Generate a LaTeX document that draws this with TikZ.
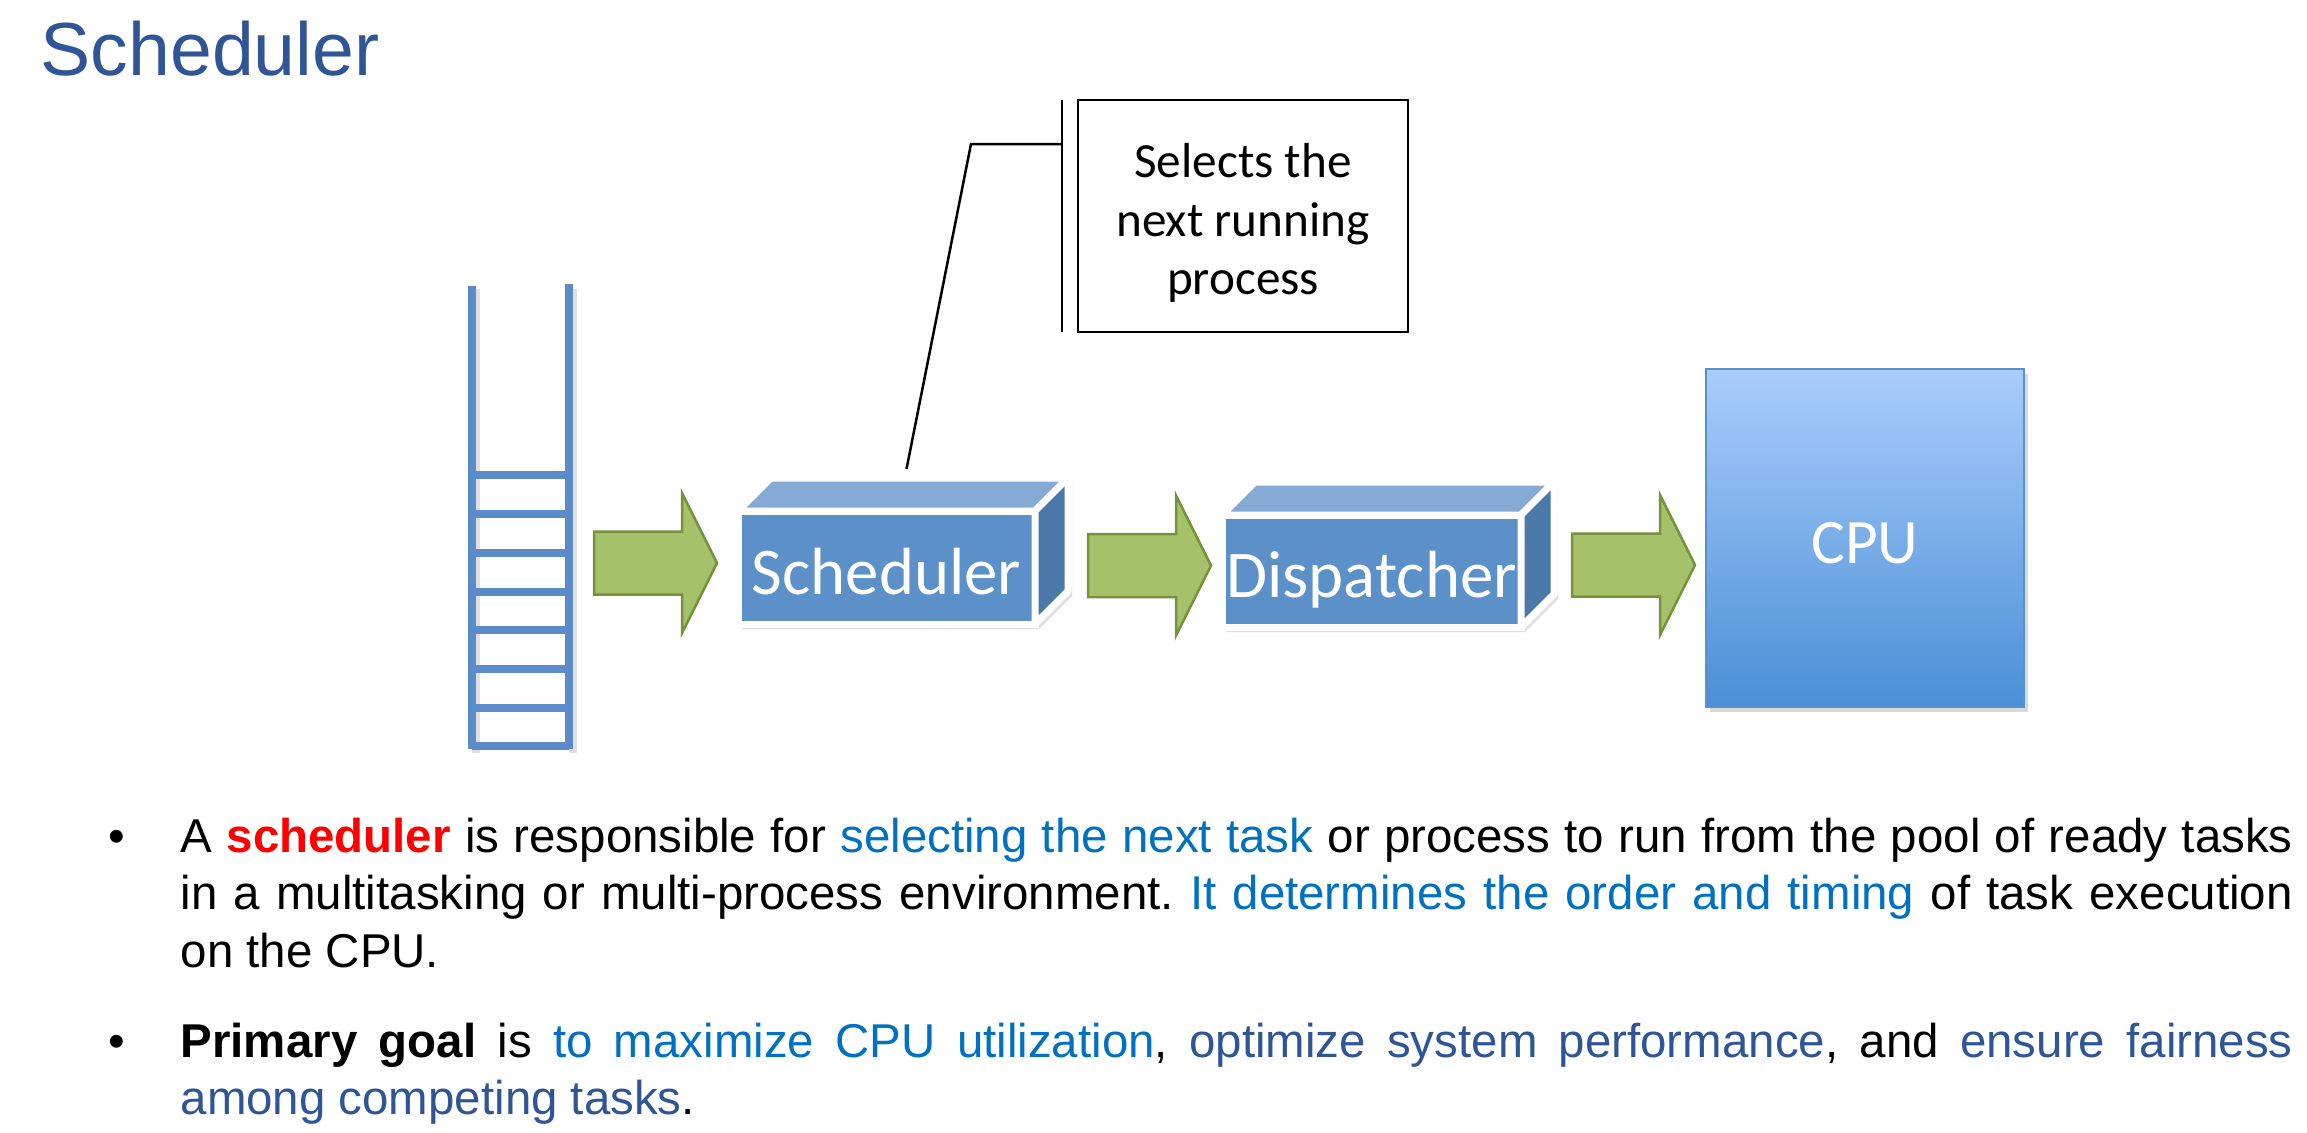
\documentclass[tikz,border=0pt]{standalone}
\usepackage{fontspec}
\setmainfont{Liberation Sans}
\newfontfamily\calibri{Carlito}
\usepackage{tikz}
\usetikzlibrary{arrows}
\usetikzlibrary{shadows,calc,backgrounds}
\usetikzlibrary{shapes,positioning}
\frenchspacing

\definecolor{titleblue}{HTML}{2F5597}
\definecolor{hiblue}{HTML}{0070C0}
\definecolor{schedred}{HTML}{FF0000}
\definecolor{ladderblue}{HTML}{5B8BC9}
\definecolor{facefront}{HTML}{5B90C8}
\definecolor{facetop}{HTML}{84AAD5}
\definecolor{faceside}{HTML}{4A78A9}
\definecolor{flowgreen}{HTML}{A5C26A}
\definecolor{flowedge}{HTML}{76923C}
\definecolor{cputop}{HTML}{A9CDFB}
\definecolor{cpubottom}{HTML}{4A8FD6}

\tikzset{>=stealth,
  queue/.style={draw=ladderblue,line width=0.8mm},
  queueshadow/.style={draw=black!12,line width=0.8mm},
  flowarrow/.style={fill=flowgreen,draw=flowedge,line width=0.25mm,line join=miter},
  boxface/.style={fill=facefront,draw=white,line width=0.7mm,outer sep=0pt,inner sep=0pt,
    text=white,font=\calibri\fontsize{19}{22}\selectfont,
    text height=5.3mm,text depth=0mm},
  boxtop/.style={fill=facetop,draw=white,line width=0.7mm,line join=round},
  boxside/.style={fill=faceside,draw=white,line width=0.7mm,line join=round},
  boxback/.style={fill=white,draw=white,line width=0.7mm,line join=round,
    drop shadow={opacity=0.25,shadow xshift=0.4mm,shadow yshift=-0.5mm}},
  cpu/.style={top color=cputop,bottom color=cpubottom,draw=facefront,line width=0.2mm,
    minimum width=31.8mm,minimum height=33.8mm,inner sep=0pt,outer sep=0pt,
    text=white,font=\calibri\fontsize{18}{22}\selectfont,text height=5mm,text depth=0mm,
    drop shadow={opacity=0.3,shadow xshift=0.4mm,shadow yshift=-0.5mm}},
  note/.style={draw,line width=0.25mm,minimum width=33mm,minimum height=23.2mm,
    inner sep=0pt,outer sep=0pt,align=center,
    font=\calibri\fontsize{14}{16.7}\selectfont},
  leader/.style={draw,line width=0.25mm},
  bullettext/.style={anchor=base west,inner sep=0pt,font=\fontsize{13.5}{16.36}\selectfont}
}

% green block arrow, tail centre given
\newcommand{\greenarrow}[1]{\draw[flowarrow] (#1) ++(0,-31.5) -- ++(88,0) -- ++(0,-38.5)
  -- ++(35,70) -- ++(-35,70) -- ++(0,-38.5) -- ++(-88,0) -- cycle;}

% top and side faces of a box, #1 node, #2 depth
\newcommand{\boxsides}[2]{
  \begin{scope}[on background layer]
  \path[boxback] (#1.south west) -- (#1.north west) -- ++(#2,-#2)
    -- ($(#1.north east)+(#2,-#2)$) -- ($(#1.south east)+(#2,-#2)$) -- (#1.south east) -- cycle;
  \end{scope}
  \filldraw[boxtop] (#1.north west) -- ++(#2,-#2) -- ($(#1.north east)+(#2,-#2)$) -- (#1.north east) -- cycle;
  \filldraw[boxside] (#1.north east) -- ++(#2,-#2) -- ($(#1.south east)+(#2,-#2)$) -- (#1.south east) -- cycle;}

\begin{document}
\begin{tikzpicture}[x=0.1mm,y=-0.1mm]
  \useasboundingbox (0,0) rectangle (2307,1132);

  \node[anchor=base west,inner sep=0pt,text=titleblue,font=\fontsize{21.4}{26}\selectfont] (title) at (40,75) {Scheduler};

  % ready queue
  \begin{scope}[shift={(4,4)}]
  \draw[queueshadow] (472,285) -- (472,749) (569,285) -- (569,749);
  \end{scope}
  \draw[queue] (472,286) -- (472,749);
  \draw[queue] (569,284) -- (569,749);
  \draw[queue] (472,475) -- (569,475);
  \draw[queue] (472,514) -- (569,514);
  \draw[queue] (472,553) -- (569,553);
  \draw[queue] (472,592) -- (569,592);
  \draw[queue] (472,630) -- (569,630);
  \draw[queue] (472,669) -- (569,669);
  \draw[queue] (472,708) -- (569,708);
  \draw[queue] (472,746) -- (569,746);

  \node[boxface,minimum width=29.7mm,minimum height=11.3mm] (sched) at (886.5,567.5) {Scheduler};
  \boxsides{sched}{33}
  \node[boxface,minimum width=29.9mm,minimum height=11.2mm] (disp) at (1371.5,571) {Dispatcher};
  \boxsides{disp}{33}
  \node[cpu] (cpu) at (1865,538) {CPU};

  \coordinate (a1) at (594,563);
  \coordinate (a2) at ($(sched.east)+(53,-2)$);
  \coordinate (a3) at ($(disp.east)+(51,-6)$);
  \greenarrow{a1}
  \greenarrow{a2}
  \greenarrow{a3}

  % callout
  \node[note] (note) at (1243,216) {\rule{0pt}{4.8mm}Selects the\\next running\\process};
  \coordinate (pin) at ($(sched.north)+(20,-42)$);
  \draw[leader] ($(note.north west)+(-16,0)$) -- ($(note.south west)+(-16,0)$);
  \draw[leader] ($(note.north west)+(-16,44)$) -- ++(-91,0) -- (pin);

  % bullets
  \node[bullettext] (dot1) at (108,852) {\textbullet};
  \node[bullettext] (para1) at (180,852) {\parbox[t]{211.2mm}{A \textcolor{schedred}{\bfseries scheduler} is responsible for \textcolor{hiblue}{selecting the next task} or process to run from the pool of ready tasks\linebreak
  in a multitasking or multi-process environment. \textcolor{hiblue}{It determines the order and timing} of task execution\linebreak
  on the CPU.}};
  \node[bullettext] (dot2) at (108,1057) {\textbullet};
  \node[bullettext] (para2) at (180,1057) {\parbox[t]{211.2mm}{\textbf{Primary goal} is \textcolor{hiblue}{to maximize CPU utilization}, \textcolor{titleblue}{optimize system performance}, and \textcolor{titleblue}{ensure fairness\linebreak
  among competing tasks}.}};

\end{tikzpicture}
\end{document}
